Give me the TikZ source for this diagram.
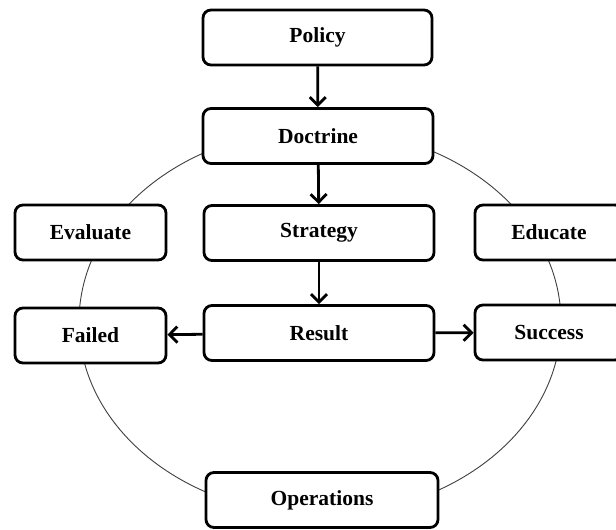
\documentclass[tikz,border=0pt]{standalone}
\usepackage{fontspec}
\setmainfont{Liberation Serif}
\usetikzlibrary{arrows.meta}
\begin{document}
\begin{tikzpicture}[x=1pt,y=-1pt,
  stage/.style={draw=black, line width=2.8pt, fill=white, rounded corners=8pt,
    minimum height=55pt, inner sep=0pt,
    font=\fontsize{21.5}{25}\selectfont\bfseries},
  flow/.style={line width=2.8pt, -{Straight Barb[length=8pt,width=16pt]}},
  cycle/.style={draw=black!75, line width=0.9pt}]
\useasboundingbox (0,0) rectangle (616,530);
\clip (0,0) rectangle (616,530);
\fill[white] (0,0) rectangle (616,530);
% the outer cycle
\draw[cycle] (320,322) ellipse [x radius=241, y radius=193];
% stages
\node[stage, minimum width=229pt] (policy) at (317.5,37.5) {Policy};
\node[stage, minimum width=230pt] (doctrine) at (318,136) {Doctrine};
\node[stage, minimum width=230pt] (strategy) at (319,233) {Strategy};
\node[stage, minimum width=230pt] (result) at (319,333) {Result};
\node[stage, minimum width=151pt] (evaluate) at (90.5,232.5) {Evaluate};
\node[stage, minimum width=151pt] (failed) at (90.5,335.5) {Failed};
\node[stage, minimum width=148pt] (educate) at (549,232.5) {Educate};
\node[stage, minimum width=148pt] (success) at (549,332.5) {Success};
\node[stage, minimum width=232pt] (operations) at (322,500) {Operations};
% flow arrows
\draw[flow] (policy) -- (doctrine);
\draw[flow] (doctrine) -- (strategy);
\draw[flow] (strategy) -- (result);
\draw[flow] (result) -- (failed);
\draw[flow] (result) -- (success);
\end{tikzpicture}
\end{document}
